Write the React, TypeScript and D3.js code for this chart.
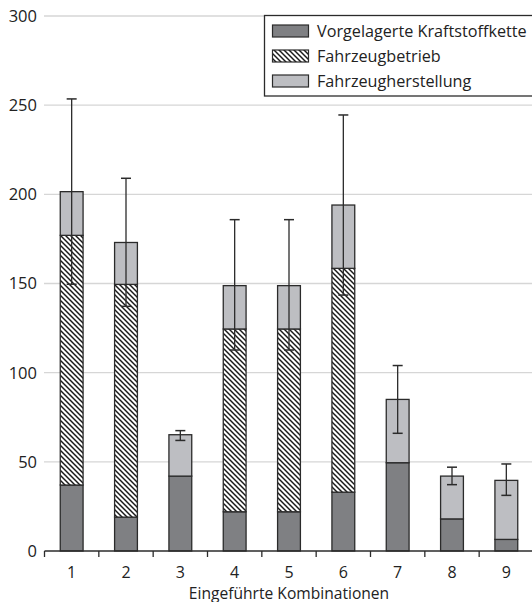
import React from "react";
import * as d3 from "d3";

const categories = ["1", "2", "3", "4", "5", "6", "7", "8", "9"];
const seriesNames = ["Vorgelagerte Kraftstoffkette", "Fahrzeugbetrieb", "Fahrzeugherstellung"];
const fuelChain = [37, 19, 42, 22, 22, 33, 49.5, 18, 6.5];
const vehicleOperation = [140, 130.5, 0, 102.5, 102.5, 125.5, 0, 0, 0];
const vehicleProduction = [24.5, 23.5, 23.2, 24.3, 24.3, 35.5, 35.5, 24, 33.1];
const errLow = [149.6, 137.2, 62, 112.7, 112.7, 143.5, 66, 37.2, 31.2];
const errHigh = [253.5, 209, 67.5, 185.8, 185.8, 244.5, 104, 47, 48.8];
const yTicks = [0, 50, 100, 150, 200, 250, 300];
const xTitle = "Eingeführte Kombinationen";

const W = 532;
const H = 602;
const FONT = "'Open Sans', 'Noto Sans', sans-serif";
const DARK = "#7f8083";
const LIGHT = "#bdbec2";
const STROKE = "#2b2b2b";

export default function App() {
  const x = d3.scaleBand<string>().domain(categories).range([44.5, 533.5]).paddingInner(0).paddingOuter(0);
  const y = d3.scaleLinear().domain([0, 300]).range([551, 16]);
  const bw = x.bandwidth() * 0.42;

  const rows = categories.map((c, i) => {
    const s0 = fuelChain[i];
    const s1 = s0 + vehicleOperation[i];
    const s2 = s1 + vehicleProduction[i];
    return { c, segs: [[0, s0], [s0, s1], [s1, s2]] as [number, number][], lo: errLow[i], hi: errHigh[i] };
  });
  const fills = [DARK, "url(#hatch)", LIGHT];

  const edges = categories.map((c) => x(c)!).concat([x.range()[1]]);

  return (
    <svg width={W} height={H} style={{ position: "absolute", left: 0, top: 0, background: "#fff" }} fontFamily={FONT}>
      <defs>
        <pattern id="hatch" patternUnits="userSpaceOnUse" width={5} height={5}>
          <rect width={5} height={5} fill="#fff" />
          <path d="M0,0 L5,5 M-1,4 L1,6 M4,-1 L6,1" stroke="#1a1a1a" strokeWidth={1.45} />
        </pattern>
      </defs>
      {yTicks.filter((t) => t > 0).map((t) => (
        <line key={t} x1={44} x2={W} y1={y(t)} y2={y(t)} stroke="#d6d6d6" strokeWidth={1.4} />
      ))}
      {yTicks.map((t) => (
        <text key={t} x={37} y={y(t)} dy="0.36em" textAnchor="end" fontSize={16.5} fill="#222">
          {t}
        </text>
      ))}
      {rows.map((r) => {
        const cx = x(r.c)! + x.bandwidth() / 2;
        return (
          <g key={r.c}>
            {r.segs.map(([a, b], k) =>
              b - a > 0 ? (
                <rect key={k} x={cx - bw / 2} y={y(b)} width={bw} height={y(a) - y(b)} fill={fills[k]} stroke={STROKE} strokeWidth={1.3} />
              ) : null
            )}
            <line x1={cx} x2={cx} y1={y(r.lo)} y2={y(r.hi)} stroke={STROKE} strokeWidth={1.3} />
            <line x1={cx - 5} x2={cx + 5} y1={y(r.hi)} y2={y(r.hi)} stroke={STROKE} strokeWidth={1.5} />
            <line x1={cx - 5} x2={cx + 5} y1={y(r.lo)} y2={y(r.lo)} stroke={STROKE} strokeWidth={1.5} />
          </g>
        );
      })}
      <line x1={44.5} x2={W} y1={y(0)} y2={y(0)} stroke={STROKE} strokeWidth={1.4} />
      {edges.map((e, i) => (
        <line key={i} x1={e} x2={e} y1={y(0)} y2={y(0) + 6} stroke={STROKE} strokeWidth={1.3} />
      ))}
      {categories.map((c) => (
        <text key={c} x={x(c)! + x.bandwidth() / 2} y={578} textAnchor="middle" fontSize={16} fill="#222">
          {c}
        </text>
      ))}
      <text x={289} y={598.5} textAnchor="middle" fontSize={15.6} fill="#222">
        {xTitle}
      </text>
      <g>
        <rect x={264.5} y={15.5} width={280} height={80.5} fill="#fff" stroke={STROKE} strokeWidth={1.3} />
        {seriesNames.map((n, i) => (
          <g key={n} transform={`translate(0, ${31 + i * 25})`}>
            <rect x={272.5} y={-6} width={36} height={12} fill={[DARK, "url(#hatch)", LIGHT][i]} stroke={STROKE} strokeWidth={1.2} />
            <text x={317} y={0} dy="0.36em" fontSize={16.2} fill="#222">
              {n}
            </text>
          </g>
        ))}
      </g>
    </svg>
  );
}
